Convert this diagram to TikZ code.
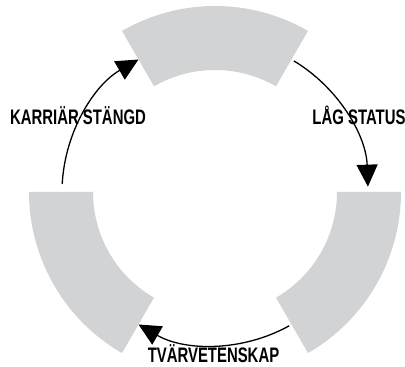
\documentclass[tikz,border=0pt]{standalone}
\usepackage{fontspec}
\setmainfont{Liberation Sans}[FakeStretch=0.71]
\usetikzlibrary{arrows.meta,calc}
\definecolor{ringgray}{RGB}{209,211,212}
\begin{document}
\begin{tikzpicture}[x=1pt,y=1pt,
  ringpart/.style={fill=ringgray},
  flow/.style={line width=1.3pt,-{Triangle[length=22pt,width=21pt]}},
  tag/.style={inner sep=0pt,anchor=base,font=\fontsize{21}{21}\selectfont\bfseries}]
\useasboundingbox (0,0) rectangle (405,367);
\coordinate (C) at (215,175);
% three ring segments, 60 degrees each
\foreach \a in {60,180,300}{
  \fill[ringpart] ($(C)+(\a:186)$) arc[start angle=\a,end angle=\a+60,radius=186]
    -- ($(C)+(\a+60:122)$) arc[start angle=\a+60,end angle=\a,radius=122] -- cycle;
}
% arrow start points on the middle circle
\coordinate (s1) at ($(C)+(177:153)$);
\coordinate (s2) at ($(C)+(59:153)$);
\coordinate (s3) at ($(C)+(299:153)$);
\draw[flow] (s1) arc[start angle=177,end angle=120,radius=153];
\draw[flow] (s2) arc[start angle=59,end angle=2,radius=153];
\draw[flow] (s3) arc[start angle=299,end angle=240,radius=153];
% labels
\node[tag] (l1) at (78,242) {KARRIÄR STÄNGD};
\node[tag] (l2) at (359,242) {LÅG STATUS};
\node[tag] (l3) at (213.5,4) {TVÄRVETENSKAP};
\end{tikzpicture}
\end{document}
